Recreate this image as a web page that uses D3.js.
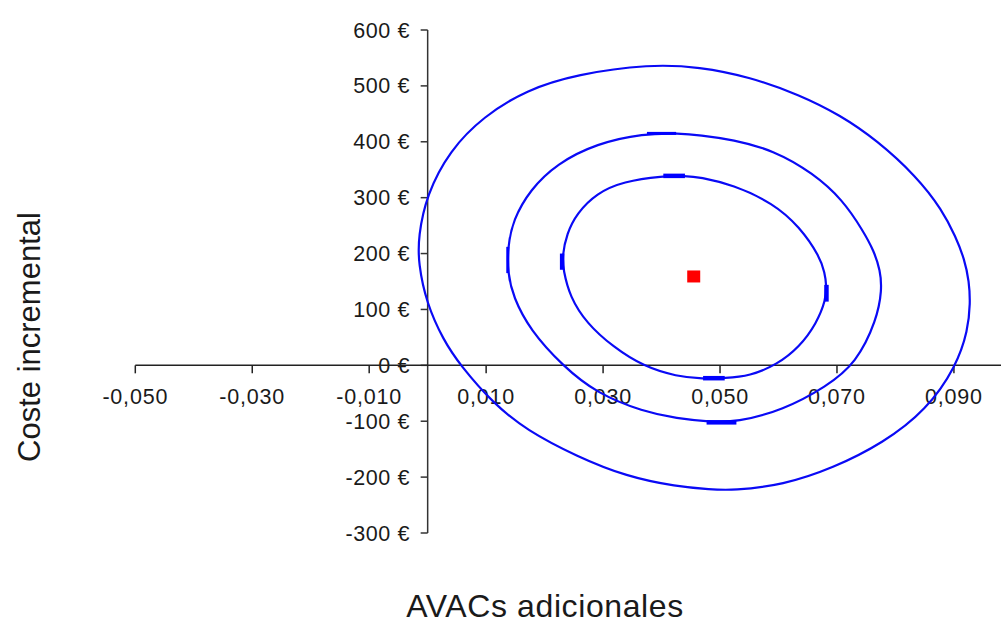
<!DOCTYPE html>
<html>
<head>
<meta charset="utf-8">
<script src="https://cdn.jsdelivr.net/npm/d3@7"></script>
<style>
  html, body { margin: 0; padding: 0; background: #fff; overflow: hidden; }
  svg text { font-family: 'Liberation Sans', Arial, sans-serif; fill: #1a1a1a; }
</style>
</head>
<body>
<div id="chart"></div>
<script>
// tick values
const xTicks = [-0.05, -0.03, -0.01, 0.01, 0.03, 0.05, 0.07, 0.09]
const yTicks = [600, 500, 400, 300, 200, 100, 0, -100, -200, -300]

// contour points [AVACs, coste]
const outerContour = [
  [0.0380, 539], [0.0255, 521], [0.0169, 493], [0.0095, 445], [0.0038, 385],
  [-0.0002, 305], [-0.0016, 230], [-0.0016, 183], [-0.0002, 111], [0.0027, 45],
  [0.0055, 1], [0.0112, -68], [0.0169, -116], [0.0255, -163], [0.0340, -199],
  [0.0426, -217], [0.0483, -222], [0.0522, -224], [0.0608, -214], [0.0693, -184],
  [0.0779, -139], [0.0853, -80], [0.0904, -2], [0.0924, 63], [0.0928, 111],
  [0.0926, 150], [0.0918, 190], [0.0903, 230], [0.0880, 278], [0.0836, 338],
  [0.0768, 403], [0.0705, 448], [0.0636, 484], [0.0551, 516], [0.0465, 534]
]
const middleContour = [
  [0.0369, 415], [0.0289, 397], [0.0221, 361], [0.0175, 314], [0.0146, 260],
  [0.0137, 212], [0.0137, 165], [0.0146, 123], [0.0175, 63], [0.0232, -2],
  [0.0289, -50], [0.0369, -83], [0.0426, -95], [0.0483, -101], [0.0528, -102],
  [0.0608, -80], [0.0682, -38], [0.0733, 4], [0.0768, 81], [0.0777, 135],
  [0.0774, 170], [0.0763, 205], [0.0745, 240], [0.0710, 296], [0.0659, 344],
  [0.0591, 385], [0.0522, 404], [0.0465, 412], [0.0431, 415]
]
const innerContour = [
  [0.0403, 339], [0.0334, 329], [0.0289, 308], [0.0255, 272], [0.0238, 236],
  [0.0230, 195], [0.0232, 171], [0.0243, 123], [0.0272, 75], [0.0317, 33],
  [0.0369, -2], [0.0426, -20], [0.0471, -24], [0.0508, -23], [0.0551, -19],
  [0.0597, 1], [0.0636, 33], [0.0665, 75], [0.0681, 117], [0.0682, 144],
  [0.0679, 165], [0.0671, 194], [0.0636, 248], [0.0591, 290], [0.0522, 323],
  [0.0465, 337], [0.0440, 339]
]
// short bold pieces on the contours [from, to, weight]
const boldMarks = [
  [[0.0403, 339], [0.0440, 339], 4.5],
  [[0.0230, 200], [0.0230, 171], 4.5],
  [[0.0682, 144], [0.0682, 114], 4.5],
  [[0.0471, -23], [0.0508, -23], 4.5],
  [[0.0477, -102], [0.0528, -102], 4.5],
  [[0.0137, 212], [0.0137, 165], 3],
  [[0.0375, 415], [0.0425, 415], 3]
]
// point estimate
const centerPoint = [0.0455, 159]

const width = 1001
const height = 623

const svg = d3.select('#chart')
  .append('svg')
  .attr('width', width)
  .attr('height', height)

const x = d3.scaleLinear().domain([-0.05, 0.1]).range([135.3, 1012.4])
const y = d3.scaleLinear().domain([-300, 600]).range([533, 30])

const fmtX = d => d3.format('.3f')(d).replace('.', ',').replace('−', '-')
const fmtY = d => `${d} €`

// y axis
const yAxis = svg.append('g')
yAxis.append('line')
  .attr('x1', x(0)).attr('x2', x(0))
  .attr('y1', y(600)).attr('y2', y(-300))
  .attr('stroke', '#333').attr('stroke-width', 1.5)
yAxis.selectAll('line.tick')
  .data(yTicks)
  .join('line')
  .attr('class', 'tick')
  .attr('x1', x(0) - 7).attr('x2', x(0))
  .attr('y1', d => y(d)).attr('y2', d => y(d))
  .attr('stroke', '#333').attr('stroke-width', 1.5)
yAxis.selectAll('text')
  .data(yTicks)
  .join('text')
  .attr('x', 410)
  .attr('y', d => y(d) + 7.5)
  .attr('text-anchor', 'end')
  .attr('font-size', 21.5)
  .attr('letter-spacing', 0.6)
  .text(fmtY)

// x axis
const xAxis = svg.append('g')
xAxis.append('line')
  .attr('x1', x(-0.05)).attr('x2', width)
  .attr('y1', y(0)).attr('y2', y(0))
  .attr('stroke', '#222').attr('stroke-width', 1.5)
xAxis.selectAll('line.tick')
  .data(xTicks)
  .join('line')
  .attr('class', 'tick')
  .attr('x1', d => x(d)).attr('x2', d => x(d))
  .attr('y1', y(0)).attr('y2', y(0) + 8)
  .attr('stroke', '#222').attr('stroke-width', 1.5)
xAxis.selectAll('text')
  .data(xTicks)
  .join('text')
  .attr('x', d => x(d))
  .attr('y', 404)
  .attr('text-anchor', 'middle')
  .attr('font-size', 21.5)
  .attr('letter-spacing', 0.8)
  .text(fmtX)

// contours
const line = d3.line()
  .x(d => x(d[0]))
  .y(d => y(d[1]))
  .curve(d3.curveBasisClosed)

svg.append('g')
  .selectAll('path')
  .data([outerContour, middleContour, innerContour])
  .join('path')
  .attr('d', line)
  .attr('fill', 'none')
  .attr('stroke', '#0a0af5')
  .attr('stroke-width', 2.2)

const straight = d3.line().x(d => x(d[0])).y(d => y(d[1]))
svg.append('g')
  .selectAll('path')
  .data(boldMarks)
  .join('path')
  .attr('d', d => straight(d.slice(0, 2)))
  .attr('fill', 'none')
  .attr('stroke', '#0000ff')
  .attr('stroke-width', d => d[2])

svg.append('rect')
  .attr('x', x(centerPoint[0]) - 6.5)
  .attr('y', y(centerPoint[1]) - 6)
  .attr('width', 13)
  .attr('height', 12)
  .attr('fill', '#ff0000')

// axis titles
svg.append('text')
  .attr('x', 545)
  .attr('y', 617)
  .attr('text-anchor', 'middle')
  .attr('font-size', 32)
  .attr('letter-spacing', 0.6)
  .text('AVACs adicionales')

svg.append('text')
  .attr('transform', 'translate(40,337) rotate(-90)')
  .attr('text-anchor', 'middle')
  .attr('font-size', 31)
  .text('Coste incremental')
</script>
</body>
</html>
